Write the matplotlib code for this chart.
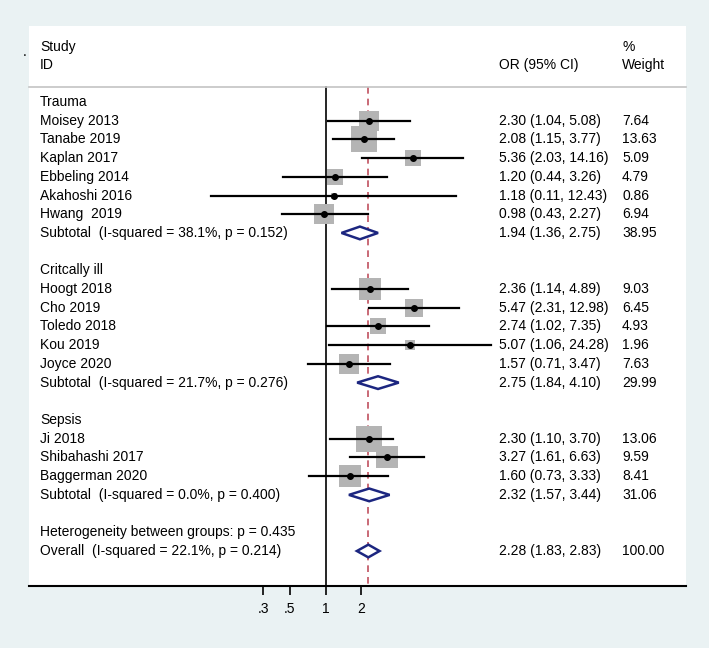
import numpy as np
import matplotlib.pyplot as plt
from matplotlib.patches import Polygon
import matplotlib.transforms as mtransforms

plt.rcParams['font.family'] = ['Liberation Sans', 'DejaVu Sans']

# data
groups = ['Trauma', 'Critcally ill', 'Sepsis']
studies = [
    ['Moisey 2013', 'Tanabe 2019', 'Kaplan 2017', 'Ebbeling 2014', 'Akahoshi 2016', 'Hwang  2019'],
    ['Hoogt 2018', 'Cho 2019', 'Toledo 2018', 'Kou 2019', 'Joyce 2020'],
    ['Ji 2018', 'Shibahashi 2017', 'Baggerman 2020'],
]
odds = [[2.30, 2.08, 5.36, 1.20, 1.18, 0.98],
        [2.36, 5.47, 2.74, 5.07, 1.57],
        [2.30, 3.27, 1.60]]
lower = [[1.04, 1.15, 2.03, 0.44, 0.11, 0.43],
         [1.14, 2.31, 1.02, 1.06, 0.71],
         [1.10, 1.61, 0.73]]
upper = [[5.08, 3.77, 14.16, 3.26, 12.43, 2.27],
         [4.89, 12.98, 7.35, 24.28, 3.47],
         [3.70, 6.63, 3.33]]
weights = [[7.64, 13.63, 5.09, 4.79, 0.86, 6.94],
           [9.03, 6.45, 4.93, 1.96, 7.63],
           [13.06, 9.59, 8.41]]
sub_or = [1.94, 2.75, 2.32]
sub_lo = [1.36, 1.84, 1.57]
sub_hi = [2.75, 4.10, 3.44]
sub_w = [38.95, 29.99, 31.06]
sub_i2 = [38.1, 21.7, 0.0]
sub_p = [0.152, 0.276, 0.400]
het_p = 0.435
overall = [2.28, 1.83, 2.83]
overall_i2, overall_p = 22.1, 0.214
ticks = [0.3, 0.5, 1, 2]
tick_labels = ['.3', '.5', '1', '2']

bg = '#EAF2F3'
fig = plt.figure(figsize=(7.09, 6.48), dpi=100, facecolor=bg)
ax = fig.add_axes([29 / 709, 62 / 648, 657 / 709, 560 / 648])
ax.set_facecolor('white')
ax.set_xscale('log')
ax.set_xlim(0.00330, 1039)
ax.set_ylim(25.87, -4.06)

trans = mtransforms.blended_transform_factory(ax.transAxes, ax.transData)
col_id, col_or, col_w = 0.0167, 0.7154, 0.9026
fs = 10
navy = '#1C2680'


def diamond(est, lo, hi, r, h=0.34):
    pts = [(lo, r), (est, r - h), (hi, r), (est, r + h)]
    ax.add_patch(Polygon(pts, closed=True, facecolor='white', edgecolor=navy,
                         lw=1.8, zorder=5))


# header
ax.text(col_id, -2.94, 'Study', transform=trans, fontsize=fs, va='center')
ax.text(col_id, -1.98, 'ID', transform=trans, fontsize=fs, va='center')
ax.text(col_or, -1.98, 'OR (95% CI)', transform=trans, fontsize=fs, va='center')
ax.text(col_w, -2.94, '%', transform=trans, fontsize=fs, va='center')
ax.text(col_w, -1.98, 'Weight', transform=trans, fontsize=fs, va='center')
ax.plot([0, 1], [-0.8, -0.8], transform=trans, color='#C4C4C4', lw=1.2, clip_on=False)

row = 0
for g in range(len(groups)):
    ax.text(col_id, row, groups[g], transform=trans, fontsize=fs, va='center')
    row += 1
    for i in range(len(studies[g])):
        o, lo, hi, w = odds[g][i], lower[g][i], upper[g][i], weights[g][i]
        side = 7.3 * np.sqrt(w) * 0.72
        ax.plot(o, row, marker='s', ms=side, mew=0, color='#B4B4B4', zorder=2)
        ax.plot([lo, hi], [row, row], color='black', lw=1.6, zorder=3)
        ax.plot(o, row, marker='o', ms=4, color='black', zorder=4)
        ax.text(col_id, row, studies[g][i], transform=trans, fontsize=fs, va='center')
        ax.text(col_or, row, f'{o:.2f} ({lo:.2f}, {hi:.2f})', transform=trans,
                fontsize=fs, va='center')
        ax.text(col_w, row, f'{w:.2f}', transform=trans, fontsize=fs, va='center')
        row += 1
    diamond(sub_or[g], sub_lo[g], sub_hi[g], row)
    ax.text(col_id, row, f'Subtotal  (I-squared = {sub_i2[g]:.1f}%, p = {sub_p[g]:.3f})',
            transform=trans, fontsize=fs, va='center')
    ax.text(col_or, row, f'{sub_or[g]:.2f} ({sub_lo[g]:.2f}, {sub_hi[g]:.2f})',
            transform=trans, fontsize=fs, va='center')
    ax.text(col_w, row, f'{sub_w[g]:.2f}', transform=trans, fontsize=fs, va='center')
    row += 2

ax.text(col_id, row, f'Heterogeneity between groups: p = {het_p:.3f}',
        transform=trans, fontsize=fs, va='center')
row += 1
diamond(overall[0], overall[1], overall[2], row)
ax.text(col_id, row, f'Overall  (I-squared = {overall_i2:.1f}%, p = {overall_p:.3f})',
        transform=trans, fontsize=fs, va='center')
ax.text(col_or, row, f'{overall[0]:.2f} ({overall[1]:.2f}, {overall[2]:.2f})',
        transform=trans, fontsize=fs, va='center')
ax.text(col_w, row, '100.00', transform=trans, fontsize=fs, va='center')

# null line and overall effect line
ax.plot([1, 1], [-0.8, 25.87], color='black', lw=1.2, zorder=1)
ax.plot([overall[0], overall[0]], [-0.8, 25.87], color='#C0505F', lw=1.2,
        dashes=(4, 3), zorder=1)

for s in ['top', 'left', 'right']:
    ax.spines[s].set_visible(False)
ax.spines['bottom'].set_linewidth(1.5)
ax.set_yticks([])
ax.set_xticks(ticks)
ax.set_xticklabels(tick_labels)
ax.minorticks_off()
ax.tick_params(axis='x', length=6.5, width=1.2, pad=5, labelsize=fs)

fig.text(25 / 709, 1 - 52 / 648, '.', fontsize=fs, ha='center', va='center')

plt.savefig('out.png', dpi=100, facecolor=bg)
